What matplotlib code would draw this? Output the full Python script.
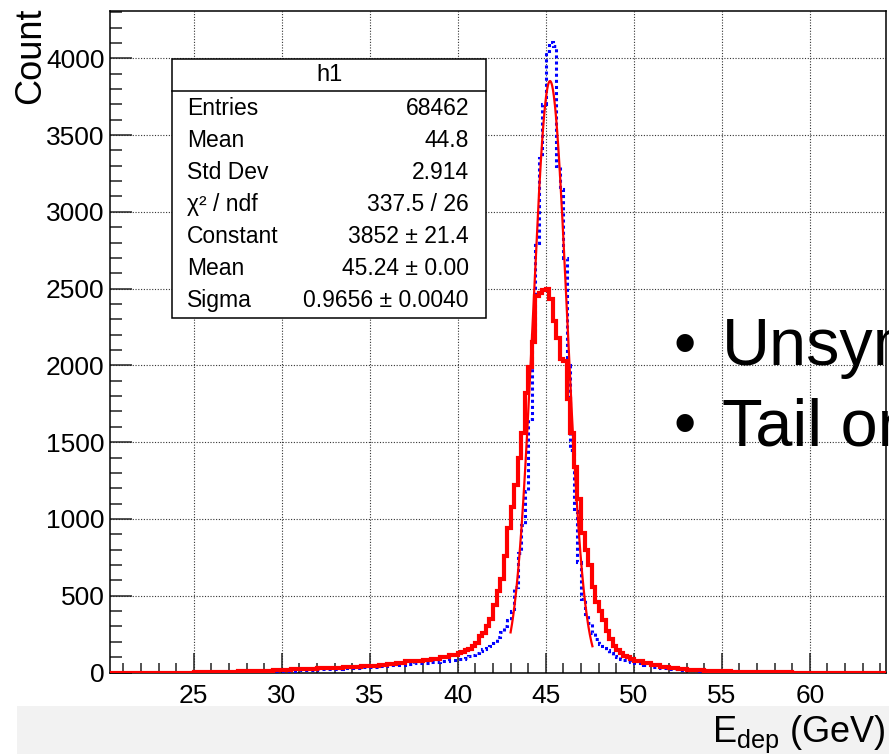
import numpy as np
import matplotlib
matplotlib.use('Agg')
import matplotlib.pyplot as plt
from matplotlib.patches import Rectangle

plt.rcParams['font.family'] = ['Liberation Sans', 'DejaVu Sans']
plt.rcParams['mathtext.fontset'] = 'custom'
plt.rcParams['mathtext.rm'] = 'Liberation Sans'
plt.rcParams['mathtext.it'] = 'Liberation Sans:italic'

# bin edges: 0.5 GeV in the tails, 0.2 GeV around the peak
edges = np.concatenate([20.0 + 0.5 * np.arange(40),
                        40.0 + 0.2 * np.arange(50),
                        50.0 + 0.5 * np.arange(31)])

# red histogram (thick line)
red_lo = [0, 0, 0, 0, 0, 0, 0, 0, 0, 0,
          2, 3, 4, 5, 6, 8, 9, 10, 12, 14,
          18, 20, 22, 24, 27, 30, 32, 35, 38, 42,
          45, 50, 58, 65, 72, 78, 82, 90, 100, 115]
red_core = [125, 135, 145, 155, 170, 190, 235, 260, 300, 350,
            440, 530, 610, 760, 940, 1080, 1220, 1400, 1560, 1820,
            1990, 2150, 2450, 2470, 2490, 2500, 2430, 2290, 2180, 2040,
            2030, 1780, 1560, 1340, 1130, 910, 800, 700, 560, 460,
            400, 340, 270, 215, 175, 145, 125, 110, 100, 90]
red_hi = [75, 60, 48, 38, 30, 24, 19, 15, 12, 10,
          7, 6, 5, 4, 3, 2, 1, 1, 0, 0,
          0, 0, 0, 0, 0, 0, 0, 0, 0, 0]

# blue histogram (dotted line), the one that was fitted
blue_lo = [0, 0, 0, 0, 0, 0, 0, 0, 0, 0,
           0, 1, 2, 3, 4, 5, 6, 7, 8, 10,
           11, 13, 15, 17, 20, 23, 26, 28, 31, 35,
           38, 42, 47, 52, 56, 60, 64, 70, 76, 84]
blue_core = [85, 90, 95, 105, 115, 125, 140, 150, 160, 175,
             195, 230, 265, 300, 345, 400, 560, 780, 960, 1180,
             1650, 2200, 2800, 3350, 3700, 4050, 4105, 4080, 3300, 3150,
             2700, 2000, 1450, 1050, 720, 480, 380, 320, 260, 215,
             185, 160, 145, 125, 110, 100, 90, 82, 75, 70]
blue_hi = [62, 48, 38, 30, 23, 18, 14, 11, 9, 8,
           10, 9, 5, 4, 3, 2, 1, 1, 0, 0,
           0, 0, 0, 0, 0, 0, 0, 0, 0, 0]

red = np.array(red_lo + red_core + red_hi)
blue = np.array(blue_lo + blue_core + blue_hi)

# gaussian fit shown in the stats box
FIT_CONST = 3852
FIT_MEAN = 45.24
FIT_SIGMA = 0.9656
FIT_RANGE = (43.0, 47.65)

stats = [('Entries', '68462'),
         ('Mean', '44.8'),
         ('Std Dev', '2.914'),
         ('\u03c7\u00b2 / ndf', '337.5 / 26'),
         ('Constant', '3852 \u00b1 21.4'),
         ('Mean', '45.24 \u00b1 0.00'),
         ('Sigma', '0.9656 \u00b1 0.0040')]

fig = plt.figure(figsize=(8.89, 7.54), dpi=100)

# slide background strip under the canvas
fig.patches.append(Rectangle((17 / 889, 0), 1, 48 / 754, transform=fig.transFigure,
                             facecolor='#f2f2f2', edgecolor='none', zorder=0))

ax = fig.add_axes([110 / 889, 81.5 / 754, 776 / 889, 661.5 / 754])
ax.set_facecolor('white')

ax.stairs(blue, edges, color='blue', lw=2.2, linestyle=(0, (1, 1)), zorder=3)
xs = np.linspace(FIT_RANGE[0], FIT_RANGE[1], 300)
ax.plot(xs, FIT_CONST * np.exp(-0.5 * ((xs - FIT_MEAN) / FIT_SIGMA) ** 2),
        color='red', lw=1.6, zorder=4)
ax.stairs(red, edges, color='red', lw=3.0, zorder=5)

ax.set_xlim(20.24, 64.33)
ax.set_ylim(0, 4308)
ax.set_xticks(range(25, 61, 5))
ax.set_xticks(range(21, 65), minor=True)
ax.set_yticks(range(0, 4001, 500))
ax.set_yticks(range(0, 4301, 100), minor=True)

ax.tick_params(which='both', direction='in', top=False, right=False, width=1.1,
               color='#222222', labelsize=19)
ax.tick_params(axis='x', which='major', length=14.4, pad=8)
ax.tick_params(axis='x', which='minor', length=7.2)
ax.tick_params(axis='y', which='major', length=15.8, pad=4)
ax.tick_params(axis='y', which='minor', length=8.6)
for s in ax.spines.values():
    s.set_linewidth(1.1)
ax.grid(True, which='major', linestyle=(0, (1, 1.5)), color='#333333', lw=0.8)
ax.set_axisbelow(True)

fig.text(31 / 889, 1 - 8 / 754, 'Count', rotation=90, ha='center', va='top', fontsize=26)
fig.text(886 / 889, 1 - 742 / 754, r'E$_{\rm dep}$ (GeV)', ha='right', va='baseline', fontsize=26)

# stats box
x0, x1 = 172 / 889, 486 / 889
ytop, ybot = 1 - 59 / 754, 1 - 318 / 754
fig.patches.append(Rectangle((x0, ybot), x1 - x0, ytop - ybot, transform=fig.transFigure,
                             facecolor='white', edgecolor='black', lw=1.1, zorder=10))
fig.add_artist(plt.Line2D([x0, x1], [1 - 91 / 754] * 2, transform=fig.transFigure,
                          color='black', lw=1.1, zorder=11))
fig.text((x0 + x1) / 2, 1 - 75 / 754, 'h1', ha='center', va='center', fontsize=17, zorder=12)
for i, (lab, val) in enumerate(stats):
    y = 1 - (108.5 + 32.0 * i) / 754
    fig.text(187 / 889, y, lab, ha='left', va='center', fontsize=16.5, zorder=12)
    fig.text(469 / 889, y, val, ha='right', va='center', fontsize=16.5, zorder=12)

# slide bullets over the plot (cut by the right edge, as in the screenshot)
for yb, txt in [(365, 'Unsymmetric'), (445, 'Tail on')]:
    fig.text(673 / 889, 1 - yb / 754, '\u2022', ha='left', va='baseline', fontsize=46, zorder=12)
    fig.text(722 / 889, 1 - yb / 754, txt, ha='left', va='baseline', fontsize=48, zorder=12)

fig.savefig('out.png', dpi=100)
